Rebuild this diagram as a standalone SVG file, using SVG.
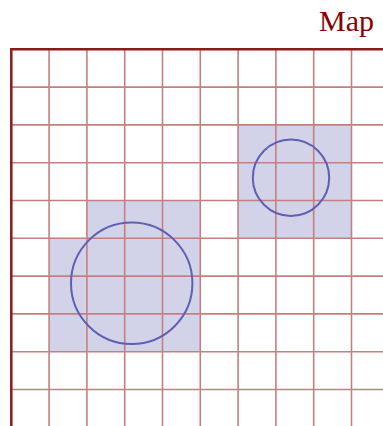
<svg xmlns="http://www.w3.org/2000/svg" width="383" height="426" viewBox="0 0 383 426">
<style>
.area{fill:#d2d2e8;stroke:none}
.grid{stroke:#c48080;stroke-width:1.6;fill:none}
.border{stroke:#8b1a1a;stroke-width:2.5;fill:none}
.circ{fill:none;stroke:#5f5fb5;stroke-width:2}
.title{font-family:"Liberation Serif",serif;font-size:30px;fill:#8b0000}
</style>
<rect width="383" height="426" fill="#ffffff"/>
<g id="regions">
<path class="area" d="M86.9,200.5 H200.3 V351.7 H49.1 V238.3 H86.9 Z"/>
<rect class="area" x="238.1" y="124.9" width="113.4" height="113.4"/>
</g>
<g id="grid">
<path class="grid" d="M49.1,49.3V426 M86.9,49.3V426 M124.7,49.3V426 M162.5,49.3V426 M200.3,49.3V426 M238.1,49.3V426 M275.9,49.3V426 M313.7,49.3V426 M351.5,49.3V426"/>
<path class="grid" d="M11.3,87.1H383 M11.3,124.9H383 M11.3,162.7H383 M11.3,200.5H383 M11.3,238.3H383 M11.3,276.1H383 M11.3,313.9H383 M11.3,351.7H383 M11.3,389.5H383"/>
<path class="border" d="M11.3,426 V49.3 H383"/>
</g>
<g id="circle-large"><circle class="circ" cx="131.7" cy="283.3" r="60.7"/></g>
<g id="circle-small"><circle class="circ" cx="291" cy="177.7" r="38.2"/></g>
<g id="title"><text class="title" x="374" y="30.7" text-anchor="end">Map</text></g>
</svg>
